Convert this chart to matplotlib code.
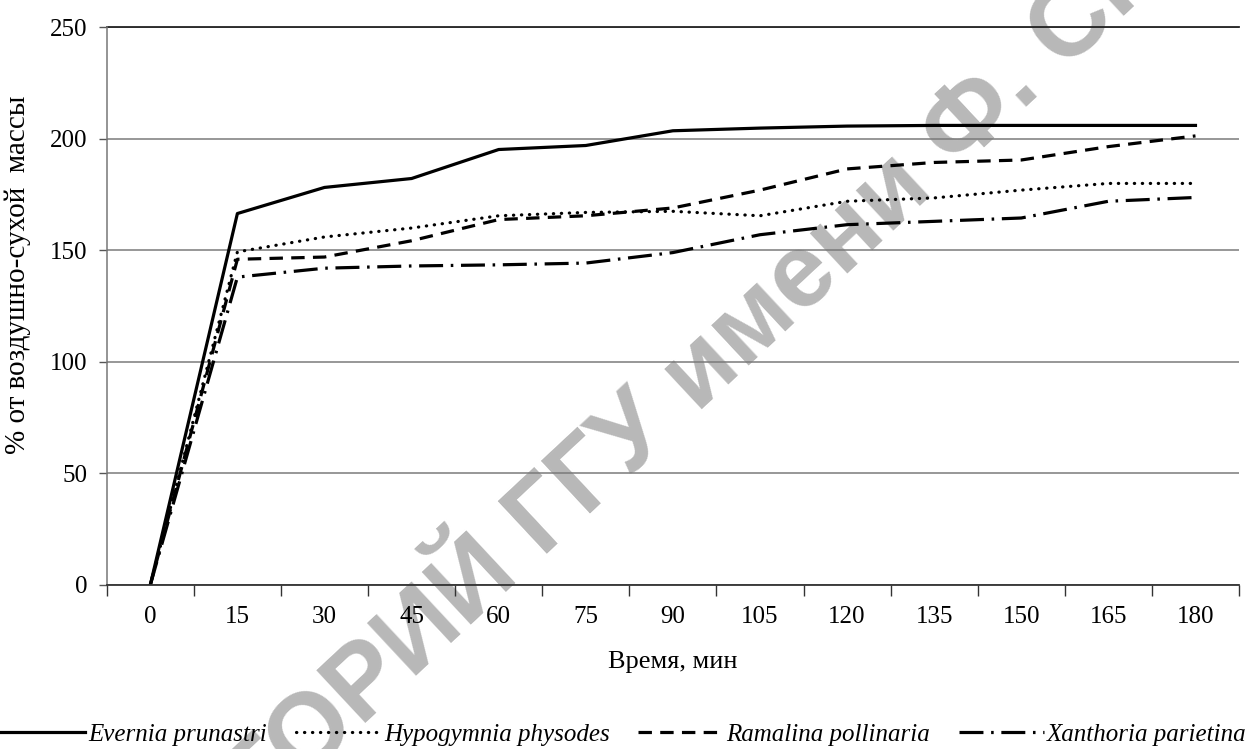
import numpy as np
import matplotlib
matplotlib.use("Agg")
import matplotlib.pyplot as plt

# ---- data ----
times = ["0", "15", "30", "45", "60", "75", "90", "105", "120", "135", "150", "165", "180"]
evernia = [0, 166.5, 178.2, 182.2, 195.2, 197.0, 203.6, 204.8, 205.7, 206.0, 206.0, 206.0, 206.0]
hypogymnia = [0, 149.3, 156.0, 160.0, 165.5, 167.0, 167.5, 165.5, 172.0, 173.5, 177.0, 180.0, 180.0]
ramalina = [0, 146.0, 147.0, 154.3, 163.8, 165.5, 169.0, 177.0, 186.5, 189.4, 190.5, 196.5, 201.3]
xanthoria = [0, 138.0, 142.0, 143.0, 143.5, 144.3, 149.0, 157.0, 161.5, 163.0, 164.5, 172.0, 173.7]
names = ["Evernia prunastri", "Hypogymnia physodes", "Ramalina pollinaria", "Xanthoria parietina"]
yticks = [0, 50, 100, 150, 200, 250]
xlabel = "Время, мин"
ylabel = "% от воздушно-сухой  массы"
watermark = "РЕПОЗИТОРИЙ ГГУ имени Ф. Скорины"

serif = ["Liberation Serif", "DejaVu Serif"]
plt.rcParams["font.family"] = serif

fig = plt.figure(figsize=(12.47, 7.49), dpi=100)
ax = fig.add_axes([0.0856, 0.219, 0.9080, 0.7446])

x = np.arange(len(times))
lw = 2.3
ax.plot(x, evernia, color="black", lw=lw, linestyle="-", label=names[0], zorder=5)
ax.plot(x, hypogymnia, color="black", lw=lw, linestyle=(0, (0.1, 2.4)),
        dash_capstyle="round", label=names[1], zorder=5)
ax.plot(x, ramalina, color="black", lw=lw, linestyle=(0, (4.2, 2.6)), label=names[2], zorder=5)
ax.plot(x, xanthoria, color="black", lw=lw, linestyle=(0, (7.5, 2.4, 0.8, 2.4)),
        label=names[3], zorder=5)

ax.set_xlim(-0.5, len(times) - 0.5)
ax.set_ylim(0, 250)
ax.set_xticks(x)
ax.set_xticklabels(times)
ax.set_xticks(np.arange(-0.5, len(times)), minor=True)
ax.tick_params(axis="x", which="major", length=0, pad=15, labelsize=18)
ax.tick_params(axis="x", which="minor", length=8, width=1, color="#333333", direction="out")
ax.set_yticks(yticks)
ax.tick_params(axis="y", length=6, width=1, color="#555555", pad=8, labelsize=18)

ax.grid(axis="y", color="#7a7a7a", lw=1.1, zorder=1)
for s in ["top", "right"]:
    ax.spines[s].set_visible(False)
ax.spines["left"].set_color("#777777")
ax.spines["left"].set_linewidth(1.1)
ax.spines["bottom"].set_color("#333333")
ax.spines["bottom"].set_linewidth(1.3)
ax.spines["bottom"].set_zorder(6)
ax.axhline(250, color="#222222", lw=1.3, zorder=2, clip_on=False)

ax.set_xlabel(xlabel, fontsize=19, labelpad=17)
ax.set_ylabel(ylabel, fontsize=21)
ax.yaxis.set_label_coords(-0.067, 0.557)

leg = fig.legend(loc="lower center", bbox_to_anchor=(0.5, -0.026), ncol=4, frameon=False,
                 handlelength=3.4, handletextpad=0.12, columnspacing=1.15,
                 prop={"family": serif, "style": "italic", "size": 18})

ax.text(0.52, 0.453, watermark, transform=fig.transFigure, rotation=43, rotation_mode="anchor",
        ha="center", va="center", fontsize=75, fontweight="bold", color="#b8b8b8",
        family=["Liberation Sans", "DejaVu Sans"], zorder=0.5, clip_on=False)

fig.savefig("out.png", dpi=100)
